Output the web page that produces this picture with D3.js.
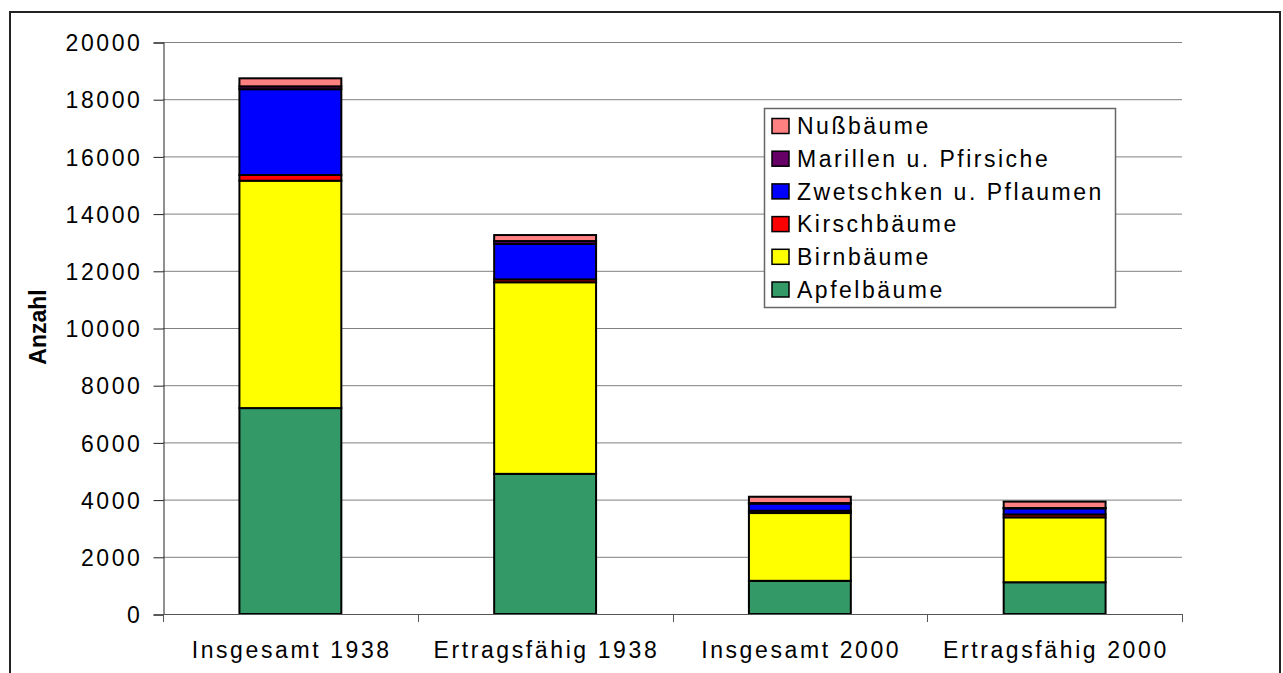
<!DOCTYPE html>
<html>
<head>
<meta charset="utf-8">
<script src="https://cdn.jsdelivr.net/npm/d3@7"></script>
<style>
  body { margin: 0; background: #fff; }
  text { font-family: "Liberation Sans", Arial, sans-serif; fill: #000; }
</style>
</head>
<body>
<div id="chart"></div>
<script>
// categories and series (Anzahl Obstbäume)
const categories = ["Insgesamt 1938", "Ertragsfähig 1938", "Insgesamt 2000", "Ertragsfähig 2000"];
const apfel = [7200, 4900, 1160, 1110];
const birn = [7950, 6700, 2370, 2270];
const kirsch = [200, 100, 80, 100];
const zwetschken = [3000, 1240, 250, 215];
const marillen = [100, 100, 20, 10];
const nuss = [280, 210, 220, 225];

const seriesNames = ["Apfelbäume", "Birnbäume", "Kirschbäume", "Zwetschken u. Pflaumen", "Marillen u. Pfirsiche", "Nußbäume"];
const seriesValues = [apfel, birn, kirsch, zwetschken, marillen, nuss];
const colors = ["#339966", "#ffff00", "#ff0000", "#0000ff", "#660066", "#ff8080"];
const yTicks = [0, 2000, 4000, 6000, 8000, 10000, 12000, 14000, 16000, 18000, 20000];

const W = 1283, H = 673;
const plot = {left: 163, right: 1182, top: 42, bottom: 614};

const svg = d3.select("#chart").append("svg")
    .attr("width", W)
    .attr("height", H);

// outer frame
svg.append("rect")
    .attr("x", 10).attr("y", 12)
    .attr("width", 1270).attr("height", 680)
    .attr("fill", "none")
    .attr("stroke", "#222")
    .attr("stroke-width", 2);

const x = d3.scaleBand()
    .domain(categories)
    .range([plot.left, plot.right])
    .paddingInner(0.6)
    .paddingOuter(0.3);

const y = d3.scaleLinear()
    .domain([0, 20000])
    .range([plot.bottom, plot.top]);

// gridlines
svg.append("g")
    .selectAll("line")
    .data(yTicks.filter(d => d > 0))
    .enter().append("line")
    .attr("x1", plot.left).attr("x2", plot.right)
    .attr("y1", d => y(d) + 0.5).attr("y2", d => y(d) + 0.5)
    .attr("stroke", "#808080")
    .attr("stroke-width", 1);

// y axis
const axisY = d3.axisLeft(y).tickValues(yTicks).tickSize(10).tickPadding(14).tickFormat(d3.format("d"));
const gy = svg.append("g")
    .attr("transform", "translate(" + (plot.left + 0.5) + ",0.5)")
    .call(axisY);
gy.select(".domain").attr("stroke", "#222");
gy.selectAll(".tick line").attr("stroke", "#222");
gy.selectAll(".tick text")
    .style("font-size", "23px")
    .style("letter-spacing", "2.6px")
    .attr("dx", "3px")
    .attr("dy", "0.36em");

// stacked data
const table = categories.map((c, i) => {
    const row = {cat: c};
    seriesNames.forEach((s, j) => { row[s] = seriesValues[j][i]; });
    return row;
});
const stacked = d3.stack().keys(seriesNames)(table);

svg.append("g")
    .selectAll("g")
    .data(stacked)
    .enter().append("g")
    .attr("fill", (d, i) => colors[i])
    .selectAll("rect")
    .data(d => d)
    .enter().append("rect")
    .attr("x", d => x(d.data.cat))
    .attr("width", x.bandwidth())
    .attr("y", d => y(d[1]))
    .attr("height", d => y(d[0]) - y(d[1]))
    .attr("stroke", "#000")
    .attr("stroke-width", 2);

// x axis
const step = x.step();
const boundaries = d3.range(categories.length + 1).map(i => plot.left + i * step);
const gx = svg.append("g");
gx.append("line")
    .attr("x1", plot.left).attr("x2", plot.right)
    .attr("y1", plot.bottom + 0.5).attr("y2", plot.bottom + 0.5)
    .attr("stroke", "#555");
gx.selectAll(".xt")
    .data(boundaries)
    .enter().append("line")
    .attr("x1", d => Math.round(d) + 0.5).attr("x2", d => Math.round(d) + 0.5)
    .attr("y1", plot.bottom).attr("y2", plot.bottom + 8)
    .attr("stroke", "#555");
gx.selectAll("text")
    .data(categories)
    .enter().append("text")
    .attr("x", d => x(d) + x.bandwidth() / 2 + 1.3)
    .attr("y", 658)
    .attr("text-anchor", "middle")
    .style("font-size", "23px")
    .style("letter-spacing", "2.6px")
    .text(d => d);

// y label
svg.append("text")
    .attr("transform", "translate(46,327) rotate(-90)")
    .attr("text-anchor", "middle")
    .style("font-size", "23px")
    .style("font-weight", "bold")
    .text("Anzahl");

// legend
const legend = svg.append("g");
legend.append("rect")
    .attr("x", 764.5).attr("y", 108.5)
    .attr("width", 351).attr("height", 199)
    .attr("fill", "#fff")
    .attr("stroke", "#666")
    .attr("stroke-width", 1.5);

const legendOrder = d3.range(seriesNames.length).reverse();
const items = legend.selectAll(".item")
    .data(legendOrder)
    .enter().append("g")
    .attr("transform", (d, i) => "translate(772," + (126 + i * 32.7) + ")");
items.append("rect")
    .attr("x", 0).attr("y", -7.5)
    .attr("width", 17).attr("height", 15)
    .attr("fill", d => colors[d])
    .attr("stroke", "#000")
    .attr("stroke-width", 1.5);
items.append("text")
    .attr("x", 25)
    .attr("dy", "0.36em")
    .style("font-size", "23px")
    .style("letter-spacing", "2.5px")
    .text(d => seriesNames[d]);
</script>
</body>
</html>
